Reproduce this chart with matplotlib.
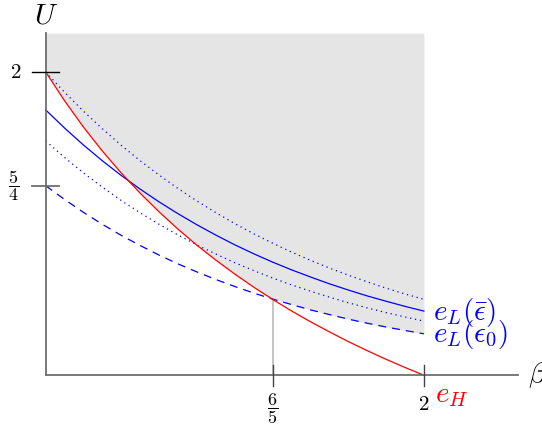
import matplotlib
matplotlib.use("Agg")
import matplotlib.pyplot as plt
import numpy as np

plt.rcParams['mathtext.fontset'] = 'cm'

# beta grid (read every 0.1)
beta = [0.0, 0.1, 0.2, 0.3, 0.4, 0.5, 0.6, 0.7, 0.8, 0.9, 1.0,
        1.1, 1.2, 1.3, 1.4, 1.5, 1.6, 1.7, 1.8, 1.9, 2.0]

# red curve e_H
e_H = [2.000, 1.810, 1.636, 1.478, 1.333, 1.200, 1.077, 0.963, 0.857, 0.759, 0.667,
       0.581, 0.500, 0.424, 0.353, 0.286, 0.222, 0.162, 0.105, 0.051, 0.000]
# solid blue e_L(eps bar)
e_L_bar = [1.750, 1.630, 1.518, 1.414, 1.317, 1.227, 1.143, 1.065, 0.992, 0.924, 0.860,
           0.801, 0.746, 0.695, 0.648, 0.603, 0.562, 0.523, 0.488, 0.454, 0.423]
# dashed blue e_L(eps_0)
e_L_0 = [1.250, 1.159, 1.074, 0.995, 0.922, 0.855, 0.792, 0.734, 0.681, 0.631, 0.585,
         0.542, 0.502, 0.466, 0.431, 0.400, 0.370, 0.343, 0.318, 0.295, 0.273]
# dotted bounds
upper_dot = [2.000, 1.866, 1.741, 1.625, 1.516, 1.414, 1.320, 1.231, 1.149, 1.072, 1.000,
             0.933, 0.871, 0.812, 0.758, 0.707, 0.660, 0.616, 0.574, 0.536, 0.500]
lower_dot = [1.545, 1.436, 1.334, 1.240, 1.152, 1.071, 0.995, 0.925, 0.859, 0.799, 0.742,
             0.690, 0.641, 0.596, 0.554, 0.515, 0.478, 0.444, 0.413, 0.384, 0.357]

top = 2.257
cross_x = 1.2
cross_y = 0.5

fig = plt.figure(figsize=(5.42, 4.3), dpi=100)
ax = fig.add_axes([0, 0, 1, 1])
ax.set_xlim(-0.2417, 2.6246)
ax.set_ylim(-0.3615, 2.475)
ax.axis('off')

# shaded region above max(e_H, e_L(eps_0))
floor = np.maximum(e_H, e_L_0)
ax.fill_between(beta, floor, top, color='#e5e5e5', lw=0, zorder=0)

axcol = '#6e6e6e'
ax.plot([0, 0], [0, top], color=axcol, lw=1.3, zorder=3)
ax.plot([0, 2.5], [0, 0], color=axcol, lw=1.3, zorder=3)

# ticks
ax.plot([-0.07, 0.07], [2, 2], color='black', lw=1.0, zorder=3)
ax.plot([-0.07, 0.07], [1.25, 1.25], color=axcol, lw=1.3, zorder=3)
for xt in [cross_x, 2]:
    ax.plot([xt, xt], [-0.07, 0.07], color='#444444', lw=1.0, zorder=3)

ax.plot([cross_x, cross_x], [0, cross_y], color='#bbbbbb', lw=1.2, zorder=1)

lw = 0.9
ax.plot(beta, upper_dot, color='blue', lw=lw, ls=(0, (1, 3)), zorder=2)
ax.plot(beta, lower_dot, color='blue', lw=lw, ls=(0, (1, 3)), zorder=2)
ax.plot(beta, e_L_bar, color='blue', lw=lw, zorder=2)
ax.plot(beta, e_L_0, color='blue', lw=lw, ls=(0, (6.4, 4.8)), zorder=2)
ax.plot(beta, e_H, color='red', lw=lw, zorder=2)

# labels
ax.text(0, 2.376, r'$U$', fontsize=21, ha='center', va='center')
ax.text(2.55, 0, r'$\beta$', fontsize=21, ha='left', va='center')
ax.text(-0.157, 2, r'$2$', fontsize=15, ha='center', va='center')
ax.text(-0.168, 1.25, r'$\dfrac{5}{4}$', fontsize=13, ha='center', va='center')
ax.text(cross_x, -0.223, r'$\dfrac{6}{5}$', fontsize=13, ha='center', va='center')
ax.text(2, -0.229, r'$2$', fontsize=15, ha='center', va='baseline')
ax.text(2.059, -0.177, r'$e_H$', fontsize=21, color='red', ha='left', va='baseline')
ax.text(2.048, 0.364, r'$e_L(\bar{\epsilon})$', fontsize=21, color='blue',
        ha='left', va='baseline')
ax.text(2.048, 0.219, r'$e_L(\epsilon_0)$', fontsize=21, color='blue',
        ha='left', va='baseline')

fig.savefig('out.png', dpi=100)
